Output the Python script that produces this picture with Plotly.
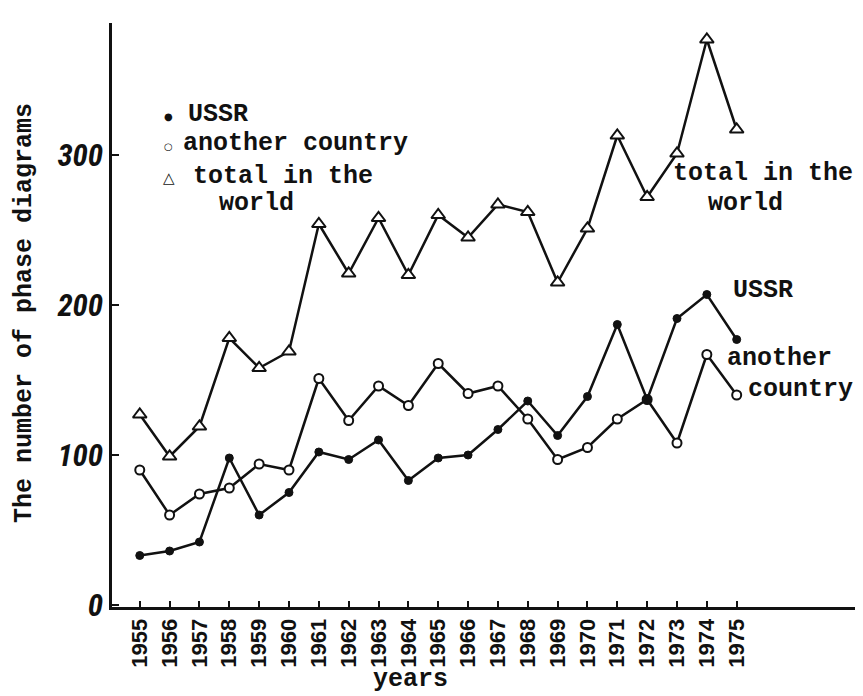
import plotly.graph_objects as go

# ---- data ----
years = list(range(1955, 1976))
year_labels = [str(y) for y in years]
ussr = [33, 36, 42, 98, 60, 75, 102, 97, 110, 83, 98, 100, 117, 136, 113, 139, 187, 137, 191, 207, 177]
another_country = [90, 60, 74, 78, 94, 90, 151, 123, 146, 133, 161, 141, 146, 124, 97, 105, 124, 137, 108, 167, 140]
total_world = [127, 99, 119, 178, 158, 169, 254, 221, 258, 220, 260, 245, 267, 262, 215, 251, 313, 272, 301, 377, 317]
y_ticks = [0, 100, 200, 300]
y_tick_labels = ["0", "100", "200", "300"]

W, H = 863, 696
ML, MR, MT, MB = 104, 0, 15, 97
PW, PH = W - ML - MR, H - MT - MB

MONO = "Liberation Mono, Courier New, DejaVu Sans Mono, monospace"
INK = "#111111"
DX, DY = -9, -7


def px(x):
    return (x - ML) / PW


def py(y):
    return (H - MB - y) / PH


fig = go.Figure()
fig.add_trace(go.Scatter(
    x=years, y=total_world, mode="lines+markers", name="total in the world",
    line=dict(color=INK, width=2.5),
    marker=dict(symbol="triangle-up", size=12, color="white", line=dict(color=INK, width=2)),
))
fig.add_trace(go.Scatter(
    x=years, y=another_country, mode="lines+markers", name="another country",
    line=dict(color=INK, width=2.5),
    marker=dict(symbol="circle", size=9, color="white", line=dict(color=INK, width=2)),
))
fig.add_trace(go.Scatter(
    x=years, y=ussr, mode="lines+markers", name="USSR",
    line=dict(color=INK, width=2.5),
    marker=dict(symbol="circle", size=8, color=INK, line=dict(color=INK, width=1)),
))

annotations = []


def ann(text, x, y, anchor="left", size=25, angle=0, family=MONO, dx=DX, dy=DY):
    annotations.append(dict(
        text=text, x=px(x + dx), y=py(y + dy), xref="paper", yref="paper",
        xanchor=anchor, yanchor="middle", showarrow=False, textangle=angle,
        font=dict(family=family, size=size, color=INK, weight="bold"),
    ))


# legend block (top-left)
ann("●", 168, 113, "center", size=10, family="DejaVu Sans", dx=-8, dy=-4)
ann("USSR", 187, 113)
ann("○", 168, 142, "center", size=10, family="DejaVu Sans", dx=-8, dy=-4)
ann("another country", 182, 142)
ann("△", 169, 174, "center", size=15, family="DejaVu Sans", dx=-8, dy=-4)
ann("total in the", 192, 175)
ann("world", 218, 203)

# right-hand labels
ann("total in the", 672, 172)
ann("world", 746, 203, "center")
ann("USSR", 732, 290)
ann("another", 726, 357)
ann("country", 747, 388)

# axis titles
ann("The number of phase diagrams", 23, 310, "center", angle=-90, dx=-7, dy=-5)
ann("years", 411, 678, "center")

fig.update_layout(
    width=W, height=H,
    margin=dict(l=ML, r=MR, t=MT, b=MB, pad=0),
    paper_bgcolor="white", plot_bgcolor="white",
    showlegend=False,
    annotations=annotations,
    xaxis=dict(
        range=[1954.07, 1979.5],
        tickmode="array", tickvals=years, ticktext=year_labels, tickangle=-90,
        ticks="inside", ticklen=6, tickwidth=2, tickcolor=INK,
        showline=True, linewidth=3, linecolor=INK,
        showgrid=False, zeroline=False,
        tickfont=dict(family="Liberation Sans, Arial, sans-serif", size=22, color=INK, weight="bold"),
    ),
    yaxis=dict(
        range=[-1.33, 388],
        tickmode="array", tickvals=y_ticks, ticktext=y_tick_labels,
        ticks="inside", ticklen=7, tickwidth=2, tickcolor=INK,
        showline=True, linewidth=2.5, linecolor=INK,
        showgrid=False, zeroline=False,
        tickfont=dict(family="Liberation Sans Narrow, Roboto Condensed, DejaVu Sans Condensed, Liberation Sans, sans-serif",
                      size=31, color=INK, weight="bold", style="italic"),
    ),
)

fig.write_html("out.html")
